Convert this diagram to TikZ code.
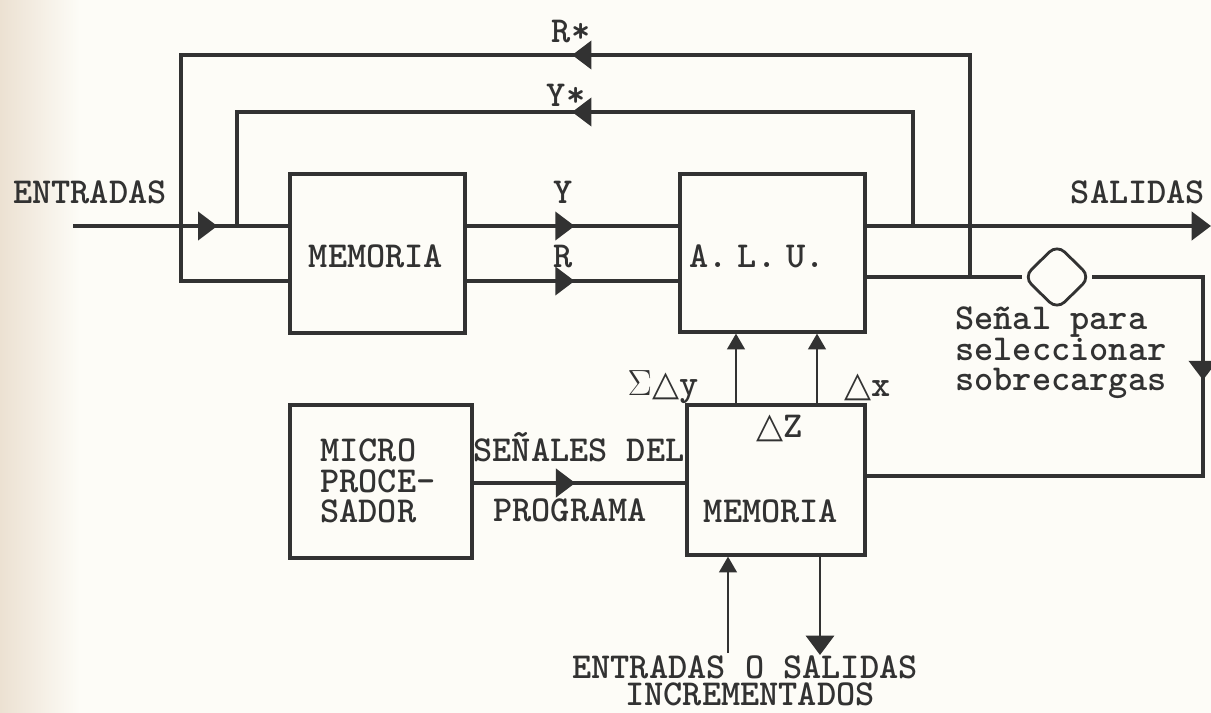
\documentclass[tikz,border=0pt]{standalone}
\usepackage{fontspec}
\newfontfamily\dvs{DejaVu Sans}
\newfontfamily\cour{lmmonolt10-bold.otf}
\usetikzlibrary{arrows.meta,decorations.markings,shapes.geometric,calc}
\definecolor{ink}{RGB}{50,50,50}
\definecolor{paper}{RGB}{253,252,247}
\definecolor{tanedge}{RGB}{236,225,210}
\newcommand{\tri}{{\dvs\fontsize{20}{20}\selectfont △}}
\tikzset{
  blk/.style={draw=ink, line width=1.8pt, inner sep=0pt},
  txt/.style={text=ink, font=\cour\fontsize{20.8}{17.3}\selectfont, inner sep=0pt},
  wire/.style={draw=ink, line width=2.2pt},
  thinwire/.style={draw=ink, line width=1.5pt},
  bigtip/.tip={Triangle[length=11pt,width=16pt]},
  smalltip/.tip={Triangle[length=9pt,width=10pt]},
  midtip/.style={postaction={decorate}, decoration={markings, mark=at position #1 with {\arrow{bigtip}}}},
}
\begin{document}
\begin{tikzpicture}[x=0.02cm,y=-0.02cm,color=ink]
\useasboundingbox (0,0) rectangle (1211,713);
\fill[paper] (0,0) rectangle (1211,713);
\shade[left color=tanedge, right color=paper] (0,0) rectangle (80,713);

% blocks
\node[blk, minimum width=3.5cm, minimum height=3.18cm] (mem) at (377.5,253.5) {};
\node[txt] at (376,256) {MEMORIA};
\node[blk, minimum width=3.7cm, minimum height=3.16cm] (alu) at (772.5,253) {};
\node[txt] at (757,256) {A.\kern-0.25em{} L.\kern-0.25em{} U.};
\node[blk, minimum width=3.64cm, minimum height=3.06cm] (micro) at (381,481.5) {};
\node[txt, align=left, anchor=west] at (320,481) {MICRO\\PROCE-\\SADOR};
\node[blk, minimum width=3.56cm, minimum height=3.0cm] (dz) at (776,480) {};
\node[txt] at (780,428) {\tri Z};
\node[txt] at (771,511) {MEMORIA};
\node[draw=ink, line width=1.6pt, diamond, minimum width=1.35cm, minimum height=1.32cm, rounded corners=6pt, inner sep=0pt, fill=paper] (dia) at (1057,277) {};

% coordinates
\coordinate (inStart) at (73,226);
\coordinate (rLeft) at (181,281);
\coordinate (rTop) at (181,55);
\coordinate (o2) at (970,277);
\coordinate (yj) at (913,226);
\coordinate (yTop) at (237,112);
\coordinate (inJ) at (237,226);
\coordinate (outEnd) at (1211,226);
\coordinate (fb) at (1203,476);
\coordinate (sig) at (500,483);
\coordinate (ax1) at (736,370);
\coordinate (ax2) at (817,370);
\coordinate (botIn) at (728,653);
\coordinate (botOut) at (820,655);

% connectors
\draw[wire, midtip=0.67] (inStart) -- (mem.west |- inStart);
\draw[wire, midtip=0.51] (mem.east |- inStart) -- (alu.west |- inStart);
\draw[wire, midtip=0.51] (mem.east |- rLeft) -- (alu.west |- rLeft);
\draw[wire, -bigtip] (alu.east |- inStart) -- (outEnd);
\draw[wire] (alu.east |- o2) -- (dia.west);
\draw[wire, midtip=4.28cm] (dia.east) -| (fb) -- (dz.east |- fb);
\draw[wire, midtip=12.4cm] (o2) |- (rTop) -- (rLeft) -- (mem.west |- rLeft);
\draw[wire, midtip=9.1cm] (yj) |- (yTop) -- (inJ);
\draw[wire, midtip=0.48] (micro.east |- sig) -- (dz.west |- sig);
\draw[thinwire, -smalltip] (dz.north -| ax1) -- (alu.south -| ax1);
\draw[thinwire, -smalltip] (dz.north -| ax2) -- (alu.south -| ax2);
\draw[thinwire, -smalltip] (botIn) -- (dz.south -| botIn);
\draw[thinwire, -bigtip] (dz.south -| botOut) -- (botOut);

% labels
\node[txt] at (90,192) {ENTRADAS};
\node[txt] at (1138,192) {SALIDAS};
\node[txt] at (571,32) {R*};
\node[txt] at (566,95) {Y*};
\node[txt] at (563,192) {Y};
\node[txt] at (563,257) {R};
\node[txt] at (663,387) {$\Sigma$\tri y};
\node[txt] at (868,387) {\tri x};
\node[txt] at (579,447) {SEÑALES DEL};
\node[txt] at (570,510) {PROGRAMA};
\node[txt, align=left, anchor=west] at (955,353) {Señal para\\seleccionar\\sobrecargas};
\node[txt] at (745,667) {ENTRADAS O SALIDAS};
\node[txt] at (750,694) {INCREMENTADOS};
\end{tikzpicture}
\end{document}
